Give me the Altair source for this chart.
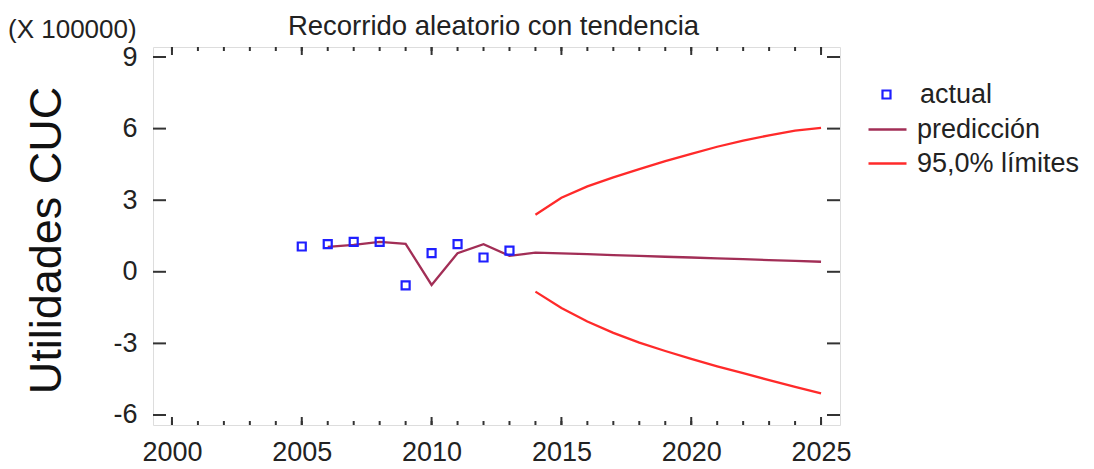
import altair as alt
import pandas as pd

FONT = "Liberation Sans"

# Observed profits (x 100000 CUC)
actual_years = [2005, 2006, 2007, 2008, 2009, 2010, 2011, 2012, 2013]
actual_values = [1.06, 1.16, 1.25, 1.25, -0.57, 0.78, 1.16, 0.60, 0.89]

# One-step and out-of-sample forecasts
pred_years = list(range(2006, 2026))
pred_values = [1.04, 1.13, 1.25, 1.17, -0.55, 0.78, 1.16, 0.67,
               0.80, 0.77, 0.74, 0.70, 0.67, 0.63, 0.60, 0.56, 0.53, 0.49, 0.46, 0.42]

# 95% forecast limits
limit_years = list(range(2014, 2026))
upper_values = [2.39, 3.10, 3.58, 3.96, 4.30, 4.64, 4.94, 5.24, 5.50, 5.72, 5.92, 6.03]
lower_values = [-0.83, -1.52, -2.08, -2.56, -2.97, -3.32, -3.65, -3.96, -4.25, -4.54, -4.82, -5.09]

x_major = [2000, 2005, 2010, 2015, 2020, 2025]
x_minor = list(range(2000, 2026))
y_major = [-6, -3, 0, 3, 6, 9]

SERIES = ["predicción", "95,0% límites"]
COLORS = ["#a22e56", "#ff2a2a"]

actual_df = pd.DataFrame({"year": actual_years, "value": actual_values, "serie": "actual"})
lines_df = pd.concat([
    pd.DataFrame({"year": pred_years, "value": pred_values,
                  "serie": "predicción", "grupo": "pred"}),
    pd.DataFrame({"year": limit_years, "value": upper_values,
                  "serie": "95,0% límites", "grupo": "sup"}),
    pd.DataFrame({"year": limit_years, "value": lower_values,
                  "serie": "95,0% límites", "grupo": "inf"}),
])
xmaj_df = pd.DataFrame({"year": x_major})
xmin_df = pd.DataFrame({"year": x_minor})
ymaj_df = pd.DataFrame({"value": y_major})
note_df = pd.DataFrame({"t": ["(X 100000)"]})
title_df = pd.DataFrame({"t": ["Recorrido aleatorio con tendencia"]})

W, H = 687, 378

xs = alt.Scale(domain=[1999.27, 2025.73], nice=False, zero=False)
ys = alt.Scale(domain=[-6.42, 9.42], nice=False, zero=False)

x_axis = alt.Axis(values=x_major, labelExpr="'' + datum.value", title=None,
                  grid=False, ticks=False, domain=False,
                  labelPadding=14, labelFontSize=27, labelFont=FONT, labelColor="#222222")
y_axis = alt.Axis(values=y_major, labelExpr="'' + datum.value", title="Utilidades CUC",
                  grid=False, ticks=False, domain=False,
                  labelPadding=16, labelFontSize=27, labelFont=FONT, labelColor="#222222",
                  titleFont=FONT, titleFontSize=45, titleFontWeight="normal",
                  titleColor="#111111", titleBaseline="alphabetic", titleAngle=270,
                  titleAlign="center", titleX=-93, titleY=H / 2 + 4)

X = alt.X("year:Q", scale=xs, axis=x_axis)
Y = alt.Y("value:Q", scale=ys, axis=y_axis)

lines = alt.Chart(lines_df).mark_line(strokeWidth=2.3).encode(
    x=X, y=Y,
    color=alt.Color("serie:N", scale=alt.Scale(domain=SERIES, range=COLORS),
                    sort=SERIES,
                    legend=alt.Legend(title=None, orient="none", legendX=714, legendY=62,
                                      symbolType="stroke", symbolSize=1444,
                                      symbolStrokeWidth=2.5, labelOffset=9,
                                      rowPadding=0, padding=0, labelLimit=400,
                                      labelFont=FONT, labelFontSize=27,
                                      labelColor="#222222")),
    detail="grupo:N",
)

points = alt.Chart(actual_df).mark_point(
    shape="square", filled=False, size=64, strokeWidth=2.2, color="#1f1fff", opacity=1
).encode(
    x=X, y=Y,
    shape=alt.Shape("serie:N", scale=alt.Scale(domain=["actual"], range=["square"]),
                    legend=alt.Legend(title=None, orient="none", legendX=720, legendY=34,
                                      symbolSize=64, symbolStrokeWidth=2.2,
                                      symbolStrokeColor="#1f1fff",
                                      symbolFillColor="transparent",
                                      labelOffset=20, padding=0, labelLimit=400,
                                      labelFont=FONT, labelFontSize=27,
                                      labelColor="#222222")),
)

TICK = "#333333"

def xticks(df, y0, y1):
    return alt.Chart(df).mark_rule(color=TICK, strokeWidth=2).encode(
        x=X, y=alt.value(y0), y2=alt.value(y1))

def yticks(x0, x1):
    return alt.Chart(ymaj_df).mark_rule(color=TICK, strokeWidth=2).encode(
        y=Y, x=alt.value(x0), x2=alt.value(x1))

ticks = [
    xticks(xmin_df, H, H - 4), xticks(xmaj_df, H, H - 8),
    xticks(xmin_df, 0, 4), xticks(xmaj_df, 0, 8),
    yticks(0, 13), yticks(W, W - 13),
]

note = alt.Chart(note_df).mark_text(
    align="left", baseline="alphabetic", font=FONT, fontSize=26, color="#222222"
).encode(x=alt.value(-145), y=alt.value(-9), text="t:N")

heading = alt.Chart(title_df).mark_text(
    align="center", baseline="alphabetic", font=FONT, fontSize=27.5, color="#222222"
).encode(x=alt.value(W / 2 - 3), y=alt.value(-12), text="t:N")

chart = alt.layer(
    *ticks, lines, points, note, heading
).resolve_legend(
    color="independent", shape="independent"
).properties(
    width=W, height=H,
    autosize=alt.AutoSizeParams(type="none"),
    padding={"left": 153, "top": 47, "right": 254, "bottom": 44},
).configure_view(
    stroke="#333333", strokeWidth=2
).configure_axis(
    domain=False, ticks=False, grid=False
).configure(background="white")

chart.save("out.html", embed_options={"renderer": "svg", "actions": False})
